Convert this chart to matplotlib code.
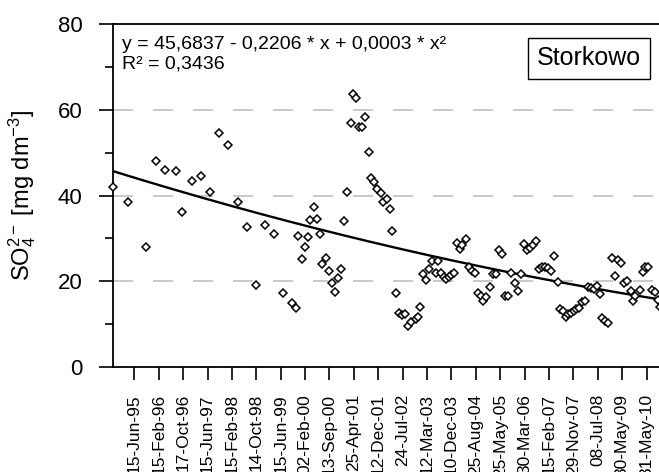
import numpy as np
import matplotlib
matplotlib.use('Agg')
import matplotlib.pyplot as plt
from matplotlib.ticker import MultipleLocator

plt.rcParams['font.family'] = ['Liberation Sans', 'DejaVu Sans']
plt.rcParams['mathtext.fontset'] = 'custom'
plt.rcParams['mathtext.rm'] = 'Liberation Sans'
plt.rcParams['mathtext.it'] = 'Liberation Sans'
plt.rcParams['mathtext.default'] = 'regular'

# sample number (position along the axis) and SO4 concentration
sample = [0, 4.9, 10.8, 14.1, 17.1, 20.7, 22.6, 25.9, 28.9, 31.8, 34.8, 37.7, 41.0, 43.9,
          46.9, 49.9, 52.8, 55.8, 58.7, 60.0, 60.7, 62.0, 63.0, 64.0, 64.6, 65.9, 66.9,
          67.9, 68.6, 69.9, 70.9, 71.9, 72.8, 73.8, 74.8, 75.8, 76.8, 78.1, 78.7, 79.7,
          80.7, 81.7, 82.7, 84.0, 84.6, 85.6, 86.6, 87.9, 88.6, 89.9, 90.9, 91.5, 92.8,
          93.8, 94.8, 95.8, 96.8, 97.8, 99.4, 100.1, 100.7, 101.7, 102.7, 103.7, 104.7,
          106.0, 106.6, 107.6, 108.6, 109.3, 110.2, 110.9, 111.9, 112.9, 113.8, 114.5,
          115.8, 116.8, 117.8, 118.8, 119.8, 120.7, 121.4, 122.4, 123.7, 124.7, 125.7,
          126.6, 127.6, 128.6, 129.6, 130.6, 131.9, 132.9, 133.9, 134.8, 135.8, 136.8,
          137.8, 138.8, 139.8, 140.7, 141.7, 142.7, 143.7, 144.7, 146.0, 146.7, 147.6,
          148.6, 149.3, 150.3, 151.2, 151.9, 152.9, 153.9, 154.9, 155.8, 156.8, 157.8,
          158.8, 159.8, 160.4, 161.4, 162.4, 163.7, 164.7, 165.7, 166.7, 167.7, 168.6,
          169.9, 170.6, 171.3, 172.9, 173.9, 174.5, 175.5, 176.8, 177.8, 178.8, 179.5]
so4 = [42.0, 38.5, 28.0, 48.0, 46.0, 45.7, 36.1, 43.4, 44.5, 40.8, 54.5, 51.7, 38.5, 32.6,
       19.1, 33.1, 31.0, 17.2, 14.9, 13.8, 30.5, 25.2, 28.0, 30.3, 34.3, 37.3, 34.5,
       31.0, 24.0, 25.4, 22.4, 19.6, 17.5, 20.7, 22.8, 34.0, 40.8, 56.9, 63.6, 62.7,
       56.0, 56.0, 58.3, 50.1, 44.1, 43.1, 41.5, 40.6, 38.5, 39.2, 36.8, 31.7, 17.2,
       12.6, 12.1, 12.3, 9.6, 10.4, 11.2, 11.7, 14.0, 21.7, 20.3, 22.8, 24.7,
       21.9, 24.7, 21.9, 21.0, 20.5, 21.0, 21.4, 21.9, 28.9, 27.5, 28.4,
       29.8, 23.3, 22.4, 21.9, 17.2, 16.5, 15.4, 16.3, 18.6, 21.7, 21.7,
       27.3, 26.3, 16.5, 16.5, 21.9, 19.6, 17.7, 21.7, 28.7, 27.3, 27.7,
       28.4, 29.4, 22.8, 23.3, 23.3, 23.1, 22.4, 25.9, 19.8, 13.5, 13.1,
       11.7, 12.3, 12.6, 13.1, 13.5, 13.8, 15.2, 15.4, 18.6, 18.4, 18.2,
       18.9, 17.0, 11.4, 10.7, 10.3, 25.4, 21.2, 24.9, 24.2, 19.6, 20.0,
       17.7, 15.4, 16.5, 17.9, 22.1, 23.3, 23.3, 17.9, 17.5, 15.6, 14.0]

tick_pos = list(range(7, 176, 8))
tick_labels = ['15-Jun-95', '15-Feb-96', '17-Oct-96', '15-Jun-97', '15-Feb-98', '14-Oct-98',
               '15-Jun-99', '02-Feb-00', '13-Sep-00', '25-Apr-01', '12-Dec-01', '24-Jul-02',
               '12-Mar-03', '10-Dec-03', '25-Aug-04', '25-May-05', '30-Mar-06', '15-Feb-07',
               '29-Nov-07', '08-Jul-08', '30-May-09', '31-May-10']

# trend coefficients shown on the chart
coef = [45.6837, -0.2206, 0.0003]

fig = plt.figure(figsize=(6.59, 4.72), dpi=100)
ax = fig.add_axes([113 / 659, 105 / 472, 546 / 659, 343 / 472])

for g in [20, 40, 60]:
    ax.axhline(g, color='#c0c0c0', lw=1.2, dashes=(12, 12), zorder=1)

xs = np.linspace(0, 180, 200)
ax.plot(xs, coef[0] + coef[1] * xs + coef[2] * xs ** 2, color='black', lw=1.7, zorder=3)
ax.plot(sample, so4, linestyle='none', marker='D', markersize=3.6, markerfacecolor='white',
        markeredgecolor='black', markeredgewidth=1.1, zorder=4, clip_on=False)

ax.set_xlim(0, 179.1)
ax.set_ylim(0, 80)
ax.yaxis.set_major_locator(MultipleLocator(20))
ax.yaxis.set_minor_locator(MultipleLocator(10))
ax.tick_params(axis='y', which='major', direction='out', length=10, width=1.2,
               labelsize=16, pad=12)
ax.tick_params(axis='y', which='minor', direction='out', length=6, width=1.2)
ax.set_xticks(tick_pos)
ax.set_xticklabels(tick_labels, rotation=90, fontsize=12.5)
ax.tick_params(axis='x', direction='out', length=9.5, width=1.2, pad=10)

for s in ['left', 'top', 'bottom']:
    ax.spines[s].set_linewidth(1.3)
ax.spines['right'].set_visible(False)

ax.set_ylabel('SO$_4^{2-}$ [mg dm$^{-3}$]', fontsize=17, labelpad=14)

ax.text(0.016, 0.965, 'y = 45,6837 - 0,2206 * x + 0,0003 * x\u00b2\nR\u00b2 = 0,3436',
        transform=ax.transAxes, fontsize=14, va='top', ha='left', linespacing=1.2)
ax.text(0.872, 0.90, 'Storkowo', transform=ax.transAxes, fontsize=18, ha='center',
        va='center', bbox=dict(boxstyle='square,pad=0.35', fc='white', ec='black', lw=1))

fig.savefig('out.png', dpi=100)
